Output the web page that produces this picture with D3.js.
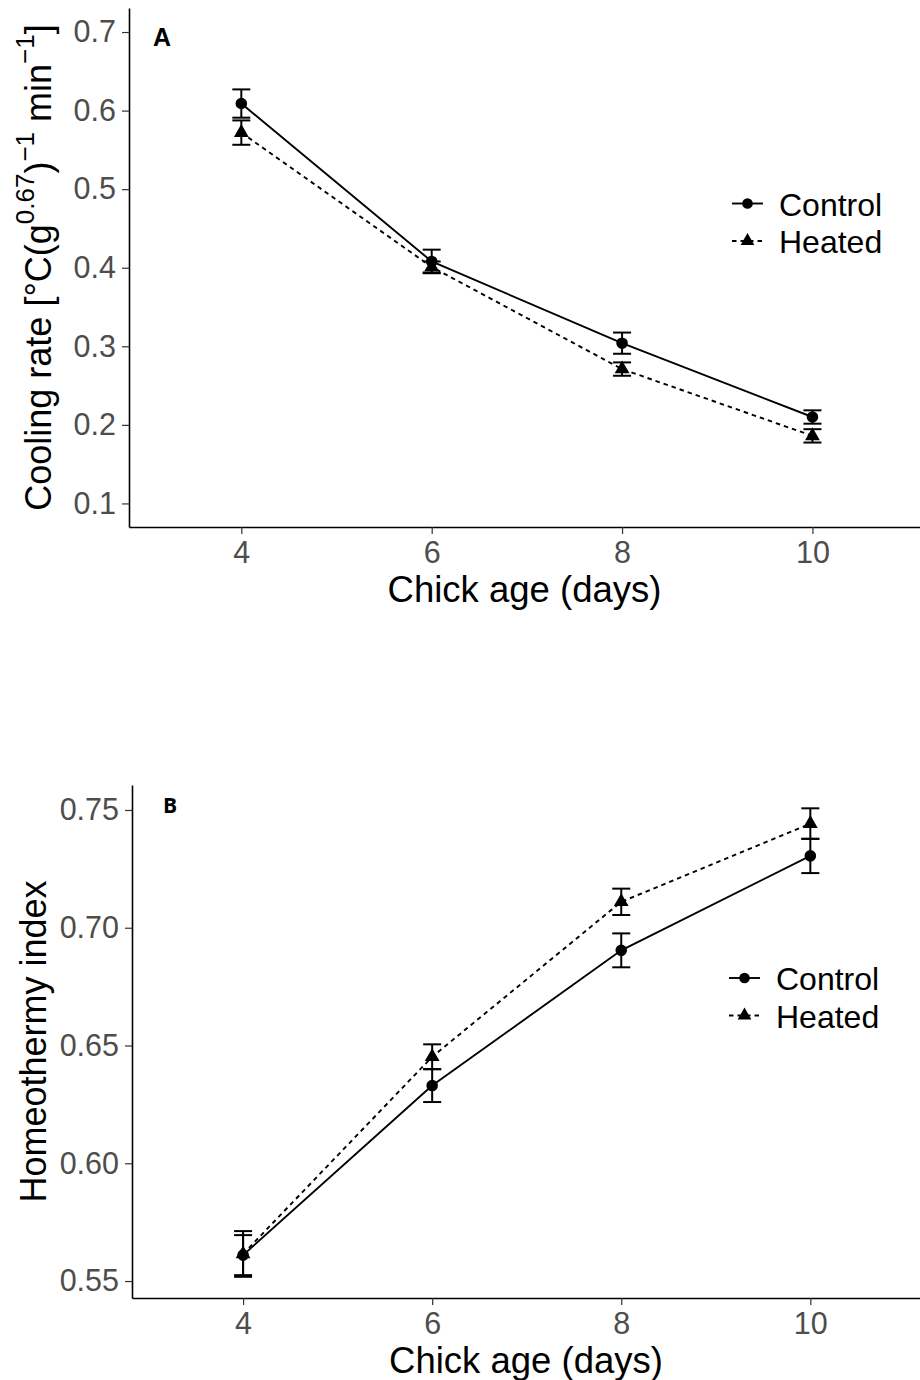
<!DOCTYPE html>
<html>
<head>
<meta charset="utf-8">
<script src="https://d3js.org/d3.v7.min.js"></script>
<style>
  html, body { margin: 0; padding: 0; background: #fff; }
  svg { display: block; font-family: "Liberation Sans", Arial, sans-serif; }
</style>
</head>
<body>
<svg id="chart" width="920" height="1380"></svg>
<script>
//Data
const ages = [4, 6, 8, 10];
const groups = ["Control", "Heated"];

// Panel A - cooling rate
const coolControl = [0.609, 0.408, 0.304, 0.210];
const coolControlSe = [0.018, 0.015, 0.0135, 0.0085];
const coolHeated = [0.572, 0.401, 0.271, 0.186];
const coolHeatedSe = [0.0155, 0.007, 0.0085, 0.0085];
const coolTicks = [0.1, 0.2, 0.3, 0.4, 0.5, 0.6, 0.7];

// Panel B - homeothermy index
const homeoControl = [0.561, 0.633, 0.6904, 0.7305];
const homeoControlSe = [0.0085, 0.007, 0.0072, 0.0073];
const homeoHeated = [0.5615, 0.6452, 0.711, 0.7442];
const homeoHeatedSe = [0.0097, 0.0053, 0.0056, 0.0065];
const homeoTicks = [0.55, 0.60, 0.65, 0.70, 0.75];

const ageTicks = [4, 6, 8, 10];

const svg = d3.select("#chart");

function drawPanel(cfg) {
    const g = svg.append("g").attr("id", cfg.id);

    //Scales
    const x = d3.scaleLinear().domain(cfg.xDomain).range([cfg.left, cfg.right]);
    const y = d3.scaleLinear().domain(cfg.yDomain).range([cfg.bottom, cfg.top]);

    //Axes
    const yAxis = d3.axisLeft(y)
        .tickValues(cfg.yTicks)
        .tickFormat(cfg.yFormat)
        .tickSize(7)
        .tickSizeOuter(0)
        .tickPadding(6);
    const yAxisG = g.append("g")
        .attr("transform", `translate(${cfg.left},0)`)
        .call(yAxis);

    const xAxis = d3.axisBottom(x)
        .tickValues(ageTicks)
        .tickFormat(d3.format("d"))
        .tickSize(7)
        .tickSizeOuter(0)
        .tickPadding(7);
    const xAxisG = g.append("g")
        .attr("transform", `translate(0,${cfg.bottom})`)
        .call(xAxis);

    [yAxisG, xAxisG].forEach(a => {
        a.select(".domain").attr("stroke", "#000").attr("stroke-width", 1.6);
        a.selectAll(".tick line").attr("stroke", "#333").attr("stroke-width", 1.2);
        a.selectAll(".tick text")
            .attr("fill", "#4d4d4d")
            .style("font-size", "30.5px")
            .style("font-family", "'Liberation Sans', Arial, sans-serif");
    });

    //Axis titles
    g.append("text")
        .attr("x", (cfg.left + cfg.right) / 2)
        .attr("y", cfg.bottom + 75)
        .attr("text-anchor", "middle")
        .style("font-size", "36.5px")
        .text("Chick age (days)");

    cfg.yTitle(g.append("text")
        .attr("transform", `translate(${cfg.yTitleX},${(cfg.top + cfg.bottom) / 2}) rotate(-90)`)
        .attr("text-anchor", "middle")
        .style("font-size", "36px"));

    //Panel letter
    g.append("text")
        .attr("x", cfg.letterX)
        .attr("y", cfg.letterY)
        .style("font-size", cfg.letterSize + "px")
        .style("font-weight", "bold")
        .style("font-family", cfg.letterFont)
        .text(cfg.letter);

    //Series
    const series = [
        { name: "Control", values: cfg.control, se: cfg.controlSe, dash: null, shape: d3.symbolCircle, size: 105 },
        { name: "Heated", values: cfg.heated, se: cfg.heatedSe, dash: "4.5,4", shape: d3.symbolTriangle, size: 95 }
    ];

    const line = d3.line().x((d, i) => x(ages[i])).y(d => y(d));

    series.forEach(s => {
        g.append("path")
            .datum(s.values)
            .attr("d", line)
            .attr("fill", "none")
            .attr("stroke", "#000")
            .attr("stroke-width", 1.9)
            .attr("stroke-dasharray", s.dash);

        const eb = g.append("g").selectAll("g")
            .data(s.values)
            .join("g");
        eb.append("line")
            .attr("x1", (d, i) => x(ages[i]))
            .attr("x2", (d, i) => x(ages[i]))
            .attr("y1", (d, i) => y(d - s.se[i]))
            .attr("y2", (d, i) => y(d + s.se[i]))
            .attr("stroke", "#000").attr("stroke-width", 2);
        [-1, 1].forEach(sign => {
            eb.append("line")
                .attr("x1", (d, i) => x(ages[i]) - 9)
                .attr("x2", (d, i) => x(ages[i]) + 9)
                .attr("y1", (d, i) => y(d + sign * s.se[i]))
                .attr("y2", (d, i) => y(d + sign * s.se[i]))
                .attr("stroke", "#000").attr("stroke-width", 2);
        });

        g.append("g").selectAll("path")
            .data(s.values)
            .join("path")
            .attr("transform", (d, i) => `translate(${x(ages[i])},${y(d)})`)
            .attr("d", d3.symbol().type(s.shape).size(s.size))
            .attr("fill", "#000");
    });

    //Legend
    const leg = g.append("g").attr("transform", `translate(${cfg.legendX},${cfg.legendY})`);
    series.forEach((s, i) => {
        const row = leg.append("g").attr("transform", `translate(0,${i * 37.5})`);
        row.append("line")
            .attr("x1", 0).attr("x2", 31)
            .attr("stroke", "#000").attr("stroke-width", 1.9)
            .attr("stroke-dasharray", s.dash);
        row.append("path")
            .attr("transform", "translate(15.5,0)")
            .attr("d", d3.symbol().type(s.shape).size(s.size * 0.85))
            .attr("fill", "#000");
        row.append("text")
            .attr("x", 47)
            .attr("y", 12)
            .style("font-size", "32px")
            .text(s.name);
    });
}

drawPanel({
    id: "panelA",
    left: 129, right: 920, top: 8, bottom: 527,
    xDomain: [2.82, 11.13],
    yDomain: [0.07, 0.7306],
    yTicks: coolTicks,
    yFormat: d3.format(".1f"),
    control: coolControl, controlSe: coolControlSe,
    heated: coolHeated, heatedSe: coolHeatedSe,
    yTitleX: 51,
    yTitle: t => {
        t.append("tspan").text("Cooling rate [°C(g");
        t.append("tspan").attr("dy", -17).style("font-size", "26px").text("0.67");
        t.append("tspan").attr("dy", 17).text(")");
        t.append("tspan").attr("dy", -17).style("font-size", "26px").text("\u22121");
        t.append("tspan").attr("dy", 17).text(" min");
        t.append("tspan").attr("dy", -17).style("font-size", "26px").text("\u22121");
        t.append("tspan").attr("dy", 17).text("]");
    },
    letter: "A", letterX: 153, letterY: 46, letterSize: 25,
    letterFont: "'Liberation Sans', Arial, sans-serif",
    legendX: 732, legendY: 203.5
});

drawPanel({
    id: "panelB",
    left: 132, right: 920, top: 785, bottom: 1298,
    xDomain: [2.825, 11.16],
    yDomain: [0.5428, 0.7606],
    yTicks: homeoTicks,
    yFormat: d3.format(".2f"),
    control: homeoControl, controlSe: homeoControlSe,
    heated: homeoHeated, heatedSe: homeoHeatedSe,
    yTitleX: 46,
    yTitle: t => t.text("Homeothermy index"),
    letter: "B", letterX: 163, letterY: 813, letterSize: 21,
    letterFont: "'Open Sans', sans-serif",
    legendX: 729, legendY: 978
});
</script>
</body>
</html>
